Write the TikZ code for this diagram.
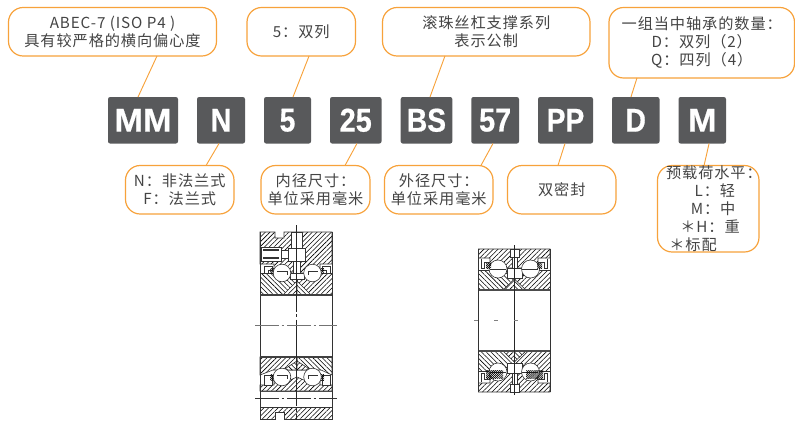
\documentclass[tikz,border=0pt]{standalone}
\usepackage{graphicx}
\usepackage{fontspec}
\setmainfont{Noto Sans CJK SC}[LetterSpace=6]
\newfontfamily\labfont{Liberation Sans}[BoldFeatures={FakeBold=0.6}]
\usetikzlibrary{patterns.meta,calc}
\definecolor{oran}{HTML}{F7A23B}
\definecolor{dark}{HTML}{58595B}
\definecolor{txt}{HTML}{444444}
\lineskiplimit=-30pt
\tikzset{
 x=.75pt,y=-.75pt,
 callout/.style={draw=oran,line width=.9pt,fill=white,rounded corners=11pt,inner sep=0pt,outer sep=0pt,text=txt,align=center,font=\fontsize{11.4}{13.5}\selectfont},
 code/.style={fill=dark,rounded corners=1.6pt,inner sep=0pt,outer sep=0pt,text=white,font=\labfont\bfseries\fontsize{24}{24}\selectfont},
 lead/.style={draw=oran,line width=.7pt},
 hatch/.style={pattern={Lines[angle=45,distance=2.5pt,line width=.42pt]},pattern color=black},
 hatchb/.style={pattern={Lines[angle=-45,distance=2.5pt,line width=.42pt]},pattern color=black},
 hatchd/.style={pattern={Lines[angle=45,distance=1.1pt,line width=.5pt]},pattern color=black},
 part/.style={draw=black!80,line width=.45pt},
 centre/.style={draw=black!55,line width=.45pt,dash pattern=on 18pt off 2pt on 2pt off 2pt},
}
\newcommand{\cbox}[7]{\node[callout,minimum width=#3*.75pt-#1*.75pt,minimum height=#4*.75pt-#2*.75pt,anchor=north west,#5] (#6) at (#1,#2) {#7};}
\newcommand{\lbox}[5]{\node[code,minimum width=#2*.75pt-#1*.75pt,minimum height=34.9pt,anchor=north west] (#3) at (#1,97) {\scalebox{#4}[1.03]{#5}};}
\begin{document}
\begin{tikzpicture}
\useasboundingbox (0,0) rectangle (795,422);
% callouts
\cbox{8.5}{7.5}{216.5}{56}{}{ca}{\fontsize{11.4}{14.25}\selectfont ABEC-7 (ISO P4 )\\具有较严格的横向偏心度}
\cbox{247}{7.5}{355.5}{56}{}{cb}{5：双列}
\cbox{382.5}{7.5}{590}{56}{}{cc}{滚珠丝杠支撑系列\\表示公制}
\cbox{609}{7.5}{794.5}{78}{}{cd}{\fontsize{11.4}{13.5}\selectfont 一组当中轴承的数量：\\D：双列（2）\\Q：四列（4）}
\cbox{125.5}{165.5}{234}{214}{}{ce}{N：非法兰式\\F：法兰式}
\cbox{261}{165.5}{370}{214}{}{cf}{内径尺寸：\\单位采用毫米}
\cbox{384.5}{165.5}{493}{214}{}{cg}{外径尺寸：\\单位采用毫米}
\cbox{507.5}{165.5}{616}{214}{}{ch}{双密封}
\cbox{657.5}{165.5}{759}{252}{align=left}{ci}{\fontsize{11.4}{12}\selectfont \hspace*{4.25pt}预载荷水平：\hspace*{-4.25pt}\\\hspace*{25.7pt}L：轻\\\hspace*{22.8pt}M：中\\\hspace*{15pt}＊H：重\\\hspace*{6.7pt}＊标配}
% code boxes
\lbox{108}{178}{mm}{1.07}{MM}
\lbox{197}{245}{n}{.9}{N}
\lbox{264}{311}{five}{.88}{5}
\lbox{330}{381.5}{tf}{.9}{25}
\lbox{400.7}{452.3}{bs}{.88}{BS}
\lbox{471.3}{519}{fs}{.9}{57}
\lbox{538}{593}{pp}{.88}{PP}
\lbox{612}{659.5}{d}{.88}{D}
\lbox{678.5}{726}{m}{1.07}{M}
% leaders
\draw[lead] ([xshift=.75*44.5pt]ca.south) -- ([xshift=.75*-5pt]mm.north);
\draw[lead] ([xshift=.75*7.8pt]cb.south) -- ([xshift=.75*5.5pt]five.north);
\draw[lead] ([xshift=.75*-41.3pt]cc.south) -- ([xshift=.75*3.5pt]bs.north);
\draw[lead] ([xshift=.75*-64.8pt]cd.south) -- ([xshift=.75*-4.8pt]d.north);
\draw[lead] ([xshift=.75*26.3pt]ce.north) -- ([xshift=.75*-2pt]n.south);
\draw[lead] ([xshift=.75*29.5pt]cf.north) -- ([xshift=.75*1.2pt]tf.south);
\draw[lead] ([xshift=.75*42.2pt]cg.north) -- ([xshift=.75*-2.2pt]fs.south);
\draw[lead] ([xshift=.75*-3.8pt]ch.north) -- ([xshift=.75*-.5pt]pp.south);
\draw[lead] ([xshift=.75*-4.2pt]ci.north) -- ([xshift=.75*6.8pt]m.south);
% ---------- left bearing, upper section
\path[hatch,part] (260,232) -- (275,232) -- (275,238) -- (284,238) -- (284,232) -- (332,232) -- (332,264) -- (320,264) -- (320,270) -- (304,273) -- (290,273) -- (274,270) -- (274,264) -- (260,264) -- cycle;
\path[hatchb,part] (260,273) -- (297,273) -- (297,295) -- (260,295) -- cycle;
\path[hatch,part] (332,273) -- (297,273) -- (297,295) -- (332,295) -- cycle;
\path[part,fill=white] (283,295) -- (297,281) -- (297,295) -- cycle;
\path[hatch] (283,295) -- (297,281) -- (297,295) -- cycle;
\path[part,fill=white] (311,295) -- (297,281) -- (297,295) -- cycle;
\path[hatchb] (311,295) -- (297,281) -- (297,295) -- cycle;
\path[part,fill=white] (290,273) rectangle (304,279.5);
\path[part,fill=white] (291,232) rectangle (302,248);
\path[part,fill=white] (288,248) rectangle (305,261);
\path[part,fill=white] (293.5,261) -- (300.5,261) -- (300.5,273) -- (293.5,273) -- cycle;
\path[part,fill=white] (261,247) rectangle (281,261);
\draw[part,line width=.8pt] (263,250) -- (279,250) (263,258) -- (279,258);
\path[part,fill=white] (281,250) rectangle (288,258);
\path[part,fill=white] (264,266) -- (272,266) -- (272,270) -- (268,270) -- (268,273) -- (264,273) -- cycle;
\path[part,fill=white] (330,266) -- (322,266) -- (322,270) -- (326,270) -- (326,273) -- (330,273) -- cycle;
\path[hatchd] (270,268) rectangle (275,273);
\path[hatchd] (319,268) rectangle (324,273);
\path[part,fill=white] (282,273) circle (8.8) (312.5,273) circle (8.8);
\draw[part] (277,271) -- (287,271) -- (287,275) (308,271) -- (318,271) (308,271) -- (308,275);
% ---------- left bearing, lower section
\path[hatch,part] (260,357) -- (297,357) -- (297,370) -- (273,370) -- (260,375) -- cycle;
\path[hatchb,part] (332,357) -- (297,357) -- (297,370) -- (321,370) -- (332,375) -- cycle;
\path[part,fill=white] (283,370) -- (297,361) -- (297,370) -- cycle;
\path[hatchb] (283,370) -- (297,361) -- (297,370) -- cycle;
\path[part,fill=white] (311,370) -- (297,361) -- (297,370) -- cycle;
\path[hatch] (311,370) -- (297,361) -- (297,370) -- cycle;
\path[hatch,part] (260,385) -- (274,385) -- (274,381) -- (288,381) -- (297,377) -- (306,381) -- (320,381) -- (320,385) -- (332,385) -- (332,391) -- (260,391) -- cycle;
\path[part,fill=white] (264,375) rectangle (272,385);
\path[part,fill=white] (322,375) rectangle (330,385);
\path[hatchd] (270,374) rectangle (275,380);
\path[hatchd] (319,374) rectangle (324,380);
\path[part,fill=white] (282,377) circle (8.8) (312.5,377) circle (8.8);
\draw[part] (277,375) -- (287,375) -- (287,379) (308,375) -- (318,375) (308,375) -- (308,379);
\draw[line width=1pt,black!70] (260,391.5) -- (332,391.5);
\path[hatch,part] (260,407) -- (332,407) -- (332,419) -- (284,419) -- (284,412) -- (275,412) -- (275,419) -- (260,419) -- cycle;
\draw[part,line width=.6pt] (260,232) -- (260,419) (332,232) -- (332,419);
\draw[black!75,line width=.9pt] (260,295) -- (332,295) (260,357) -- (332,357);
\draw[black!85,line width=.45pt,dash pattern=on 65pt off 2pt on 2pt off 2pt] (296.3,225) -- (296.3,420);
\draw[centre] (255,325.7) -- (337,325.7);
\draw[centre,black!80] (255,398.5) -- (337,398.5);
% ---------- right bearing
\newcommand{\righthalf}{%
 \path[hatch,part] (478.5,249) -- (550,249) -- (550,258) -- (538,258) -- (538,266) -- (522,268) -- (507,268) -- (490,266) -- (490,258) -- (478.5,258) -- cycle;
 \path[hatchb,part] (478.5,270) -- (514.3,270) -- (514.3,290) -- (478.5,290) -- cycle;
 \path[hatch,part] (550,270) -- (514.3,270) -- (514.3,290) -- (550,290) -- cycle;
 \path[part,fill=white] (503,290) -- (514.3,279) -- (514.3,290) -- cycle;
 \path[hatch] (503,290) -- (514.3,279) -- (514.3,290) -- cycle;
 \path[part,fill=white] (526,290) -- (514.3,279) -- (514.3,290) -- cycle;
 \path[hatchb] (526,290) -- (514.3,279) -- (514.3,290) -- cycle;
 \path[part,fill=white] (507,268) rectangle (522,278);
 \path[part,fill=white] (510,249) rectangle (519,257);
 \path[part,fill=white] (512,257) rectangle (517,268);
 \draw[part] (481,259) -- (481,268) -- (484,268) -- (484,262) -- (490,262) (547,259) -- (547,268) -- (544,268) -- (544,262) -- (538,262);
 \path[part,fill=white] (498,269) circle (9) (530.5,269) circle (9);
 \draw[part] (490,269) -- (506,269) (522,269) -- (538,269);
}
\righthalf
\path[hatchd] (486,263) rectangle (491,268);
\path[hatchd] (537,263) rectangle (542,268);
\begin{scope}[shift={(0,641)},yscale=-1]
\righthalf
\path[hatchd] (486,263) rectangle (503,271);
\path[hatchd] (526,263) rectangle (543,271);
\end{scope}
\draw[part,line width=.7pt] (478.5,249) -- (478.5,392) (550,249) -- (550,392);
\draw[black!70,line width=.9pt] (478.5,290) -- (550,290) (478.5,351) -- (550,351);
\draw[black!85,line width=.45pt] (514.3,245) -- (514.3,395);
\draw[black!50,line width=.45pt,dash pattern=on 3pt off 12pt] (474,320) -- (522,320);
\end{tikzpicture}
\end{document}
